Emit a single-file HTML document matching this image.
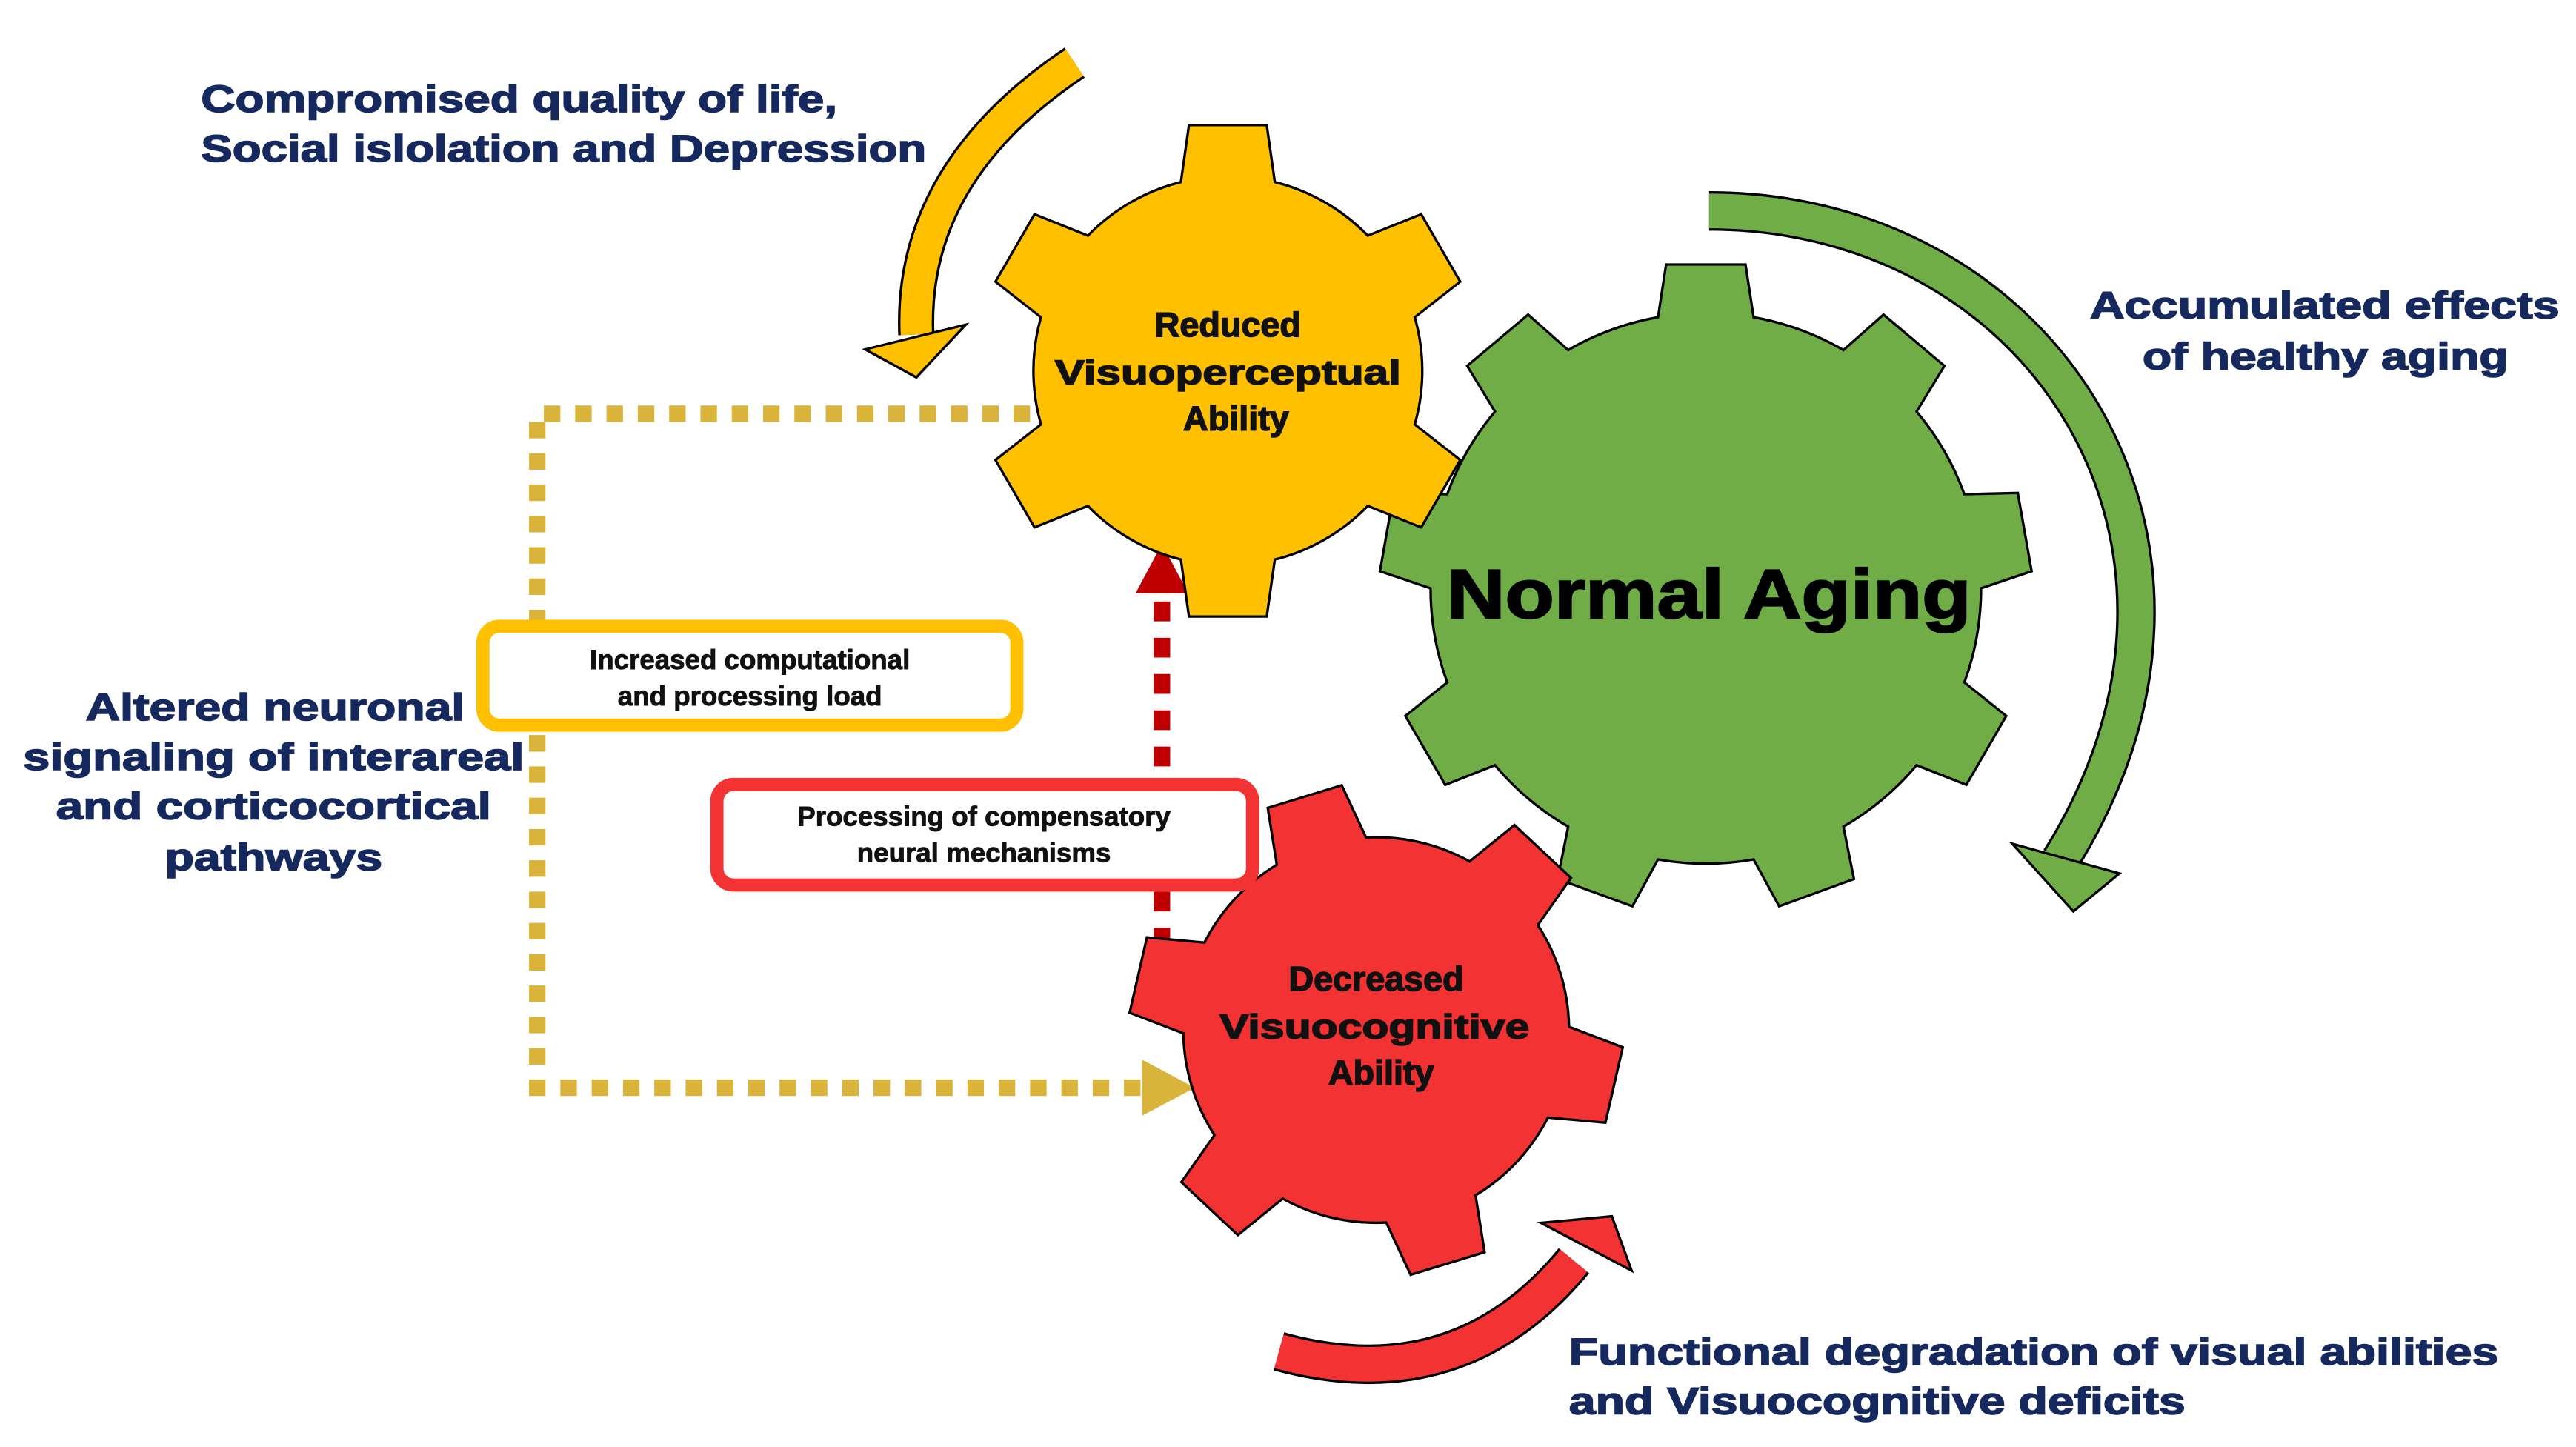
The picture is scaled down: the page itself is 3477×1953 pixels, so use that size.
<!DOCTYPE html>
<html><head><meta charset="utf-8"><style>
html,body{margin:0;padding:0;background:#fff;}
svg{display:block;}
text{font-family:"Liberation Sans",sans-serif;font-weight:bold;}
.nv{fill:#16295e;stroke:#16295e;stroke-width:0.7px;font-size:23px;}
.gt{fill:#111;stroke:#111;stroke-width:0.7px;font-size:21px;text-anchor:middle;}
.bx{fill:#111;stroke:#111;stroke-width:0.4px;font-size:16.5px;text-anchor:middle;}
</style></head><body>
<svg width="3477" height="1953" viewBox="0 0 1563 878" preserveAspectRatio="none" xmlns="http://www.w3.org/2000/svg">
<!-- arrows -->
<path d="M652,38 Q552,105 556,203" fill="none" stroke="#000" stroke-width="22"/>
<path d="M652,38 Q552,105 556,203" fill="none" stroke="#FFC000" stroke-width="19"/>
<polygon points="525,212 586,197 556,229" fill="#FFC000" stroke="#000" stroke-width="1.5"/>
<path d="M1037,128 C1240,128 1370,330 1250,522" fill="none" stroke="#000" stroke-width="24"/>
<path d="M1037,128 C1240,128 1370,330 1250,522" fill="none" stroke="#70AD47" stroke-width="21"/>
<polygon points="1221,512 1286,530 1258,553" fill="#70AD47" stroke="#000" stroke-width="1.5"/>
<path d="M776,820 Q885,850 955,765" fill="none" stroke="#000" stroke-width="24"/>
<path d="M776,820 Q885,850 955,765" fill="none" stroke="#F33333" stroke-width="21"/>
<polygon points="935,742 978,738 990,771" fill="#F33333" stroke="#000" stroke-width="1.5"/>
<!-- dotted connectors -->
<polyline points="625,251 326,251 326,660 695,660" fill="none" stroke="#D9B33A" stroke-width="10" stroke-dasharray="10 9"/>
<polygon points="693,643 725,660 693,677" fill="#D9B33A"/>
<line x1="705" y1="575" x2="705" y2="360" stroke="#C00000" stroke-width="10" stroke-dasharray="12 10"/>
<polygon points="689,360 721,360 705,330" fill="#C00000"/>
<!-- gears -->
<path id="gG" fill="#70AD47" stroke="#000" stroke-width="1.5"/>
<path id="gY" fill="#FFC000" stroke="#000" stroke-width="1.5"/>
<path id="gR" fill="#F33333" stroke="#000" stroke-width="1.5"/>
<!-- boxes -->
<rect x="293" y="380" width="324" height="60" rx="10" fill="#fff" stroke="#FFC000" stroke-width="8"/>
<text class="bx" x="455" y="406">Increased computational</text>
<text class="bx" x="455" y="428">and processing load</text>
<rect x="435" y="476" width="325" height="61" rx="10" fill="#fff" stroke="#F33333" stroke-width="8"/>
<text class="bx" x="597" y="501">Processing of compensatory</text>
<text class="bx" x="597" y="523">neural mechanisms</text>
<!-- gear text -->
<text class="gt" x="745" y="204">Reduced</text>
<text class="gt" x="745" y="233" textLength="210" lengthAdjust="spacingAndGlyphs">Visuoperceptual</text>
<text class="gt" x="750" y="261">Ability</text>
<text x="1037" y="375" style="font-size:42px;fill:#000;stroke:#000;stroke-width:1px;text-anchor:middle" textLength="318" lengthAdjust="spacingAndGlyphs">Normal Aging</text>
<text class="gt" x="835" y="601">Decreased</text>
<text class="gt" x="834" y="630" textLength="188" lengthAdjust="spacingAndGlyphs">Visuocognitive</text>
<text class="gt" x="838" y="658">Ability</text>
<!-- navy labels -->
<text class="nv" x="122" y="68" textLength="386" lengthAdjust="spacingAndGlyphs">Compromised quality of life,</text>
<text class="nv" x="122" y="98" textLength="440" lengthAdjust="spacingAndGlyphs">Social islolation and Depression</text>
<text class="nv" x="1268" y="193" textLength="285" lengthAdjust="spacingAndGlyphs">Accumulated effects</text>
<text class="nv" x="1300" y="224" textLength="222" lengthAdjust="spacingAndGlyphs">of healthy aging</text>
<text class="nv" x="52" y="437" textLength="230" lengthAdjust="spacingAndGlyphs">Altered neuronal</text>
<text class="nv" x="14" y="467" textLength="304" lengthAdjust="spacingAndGlyphs">signaling of interareal</text>
<text class="nv" x="34" y="497" textLength="264" lengthAdjust="spacingAndGlyphs">and corticocortical</text>
<text class="nv" x="100" y="528" textLength="132" lengthAdjust="spacingAndGlyphs">pathways</text>
<text class="nv" x="952" y="828" textLength="564" lengthAdjust="spacingAndGlyphs">Functional degradation of visual abilities</text>
<text class="nv" x="952" y="858" textLength="374" lengthAdjust="spacingAndGlyphs">and Visuocognitive deficits</text>
</svg>
<script>
function gear(cx,cy,rb,rt,n,start,hb,ht){
  var d="",s=360/n;
  for(var i=0;i<n;i++){
    var a=start+i*s,pts=[];
    var list=[[a-hb,rb],[a-ht,rt],[a+ht,rt],[a+hb,rb]];
    for(var j=0;j<4;j++){var an=list[j][0]*Math.PI/180,r=list[j][1];
      pts.push([cx+r*Math.cos(an),cy-r*Math.sin(an)]);}
    var a2=a+s-hb;
    d+=(i==0?"M":"L")+pts[0][0].toFixed(1)+","+pts[0][1].toFixed(1);
    for(var j=1;j<4;j++) d+="L"+pts[j][0].toFixed(1)+","+pts[j][1].toFixed(1);
    var an2=a2*Math.PI/180;
    d+="A"+rb+","+rb+" 0 0 0 "+(cx+rb*Math.cos(an2)).toFixed(1)+","+(cy-rb*Math.sin(an2)).toFixed(1);
  }
  return d+"Z";
}
document.getElementById("gG").setAttribute("d",gear(1035,357,167,198,9,90,10,7));
document.getElementById("gY").setAttribute("d",gear(745,225,118,151,6,90,14,9));
document.getElementById("gR").setAttribute("d",gear(835,625,117,150,6,107,14,9));
</script>
</body></html>
